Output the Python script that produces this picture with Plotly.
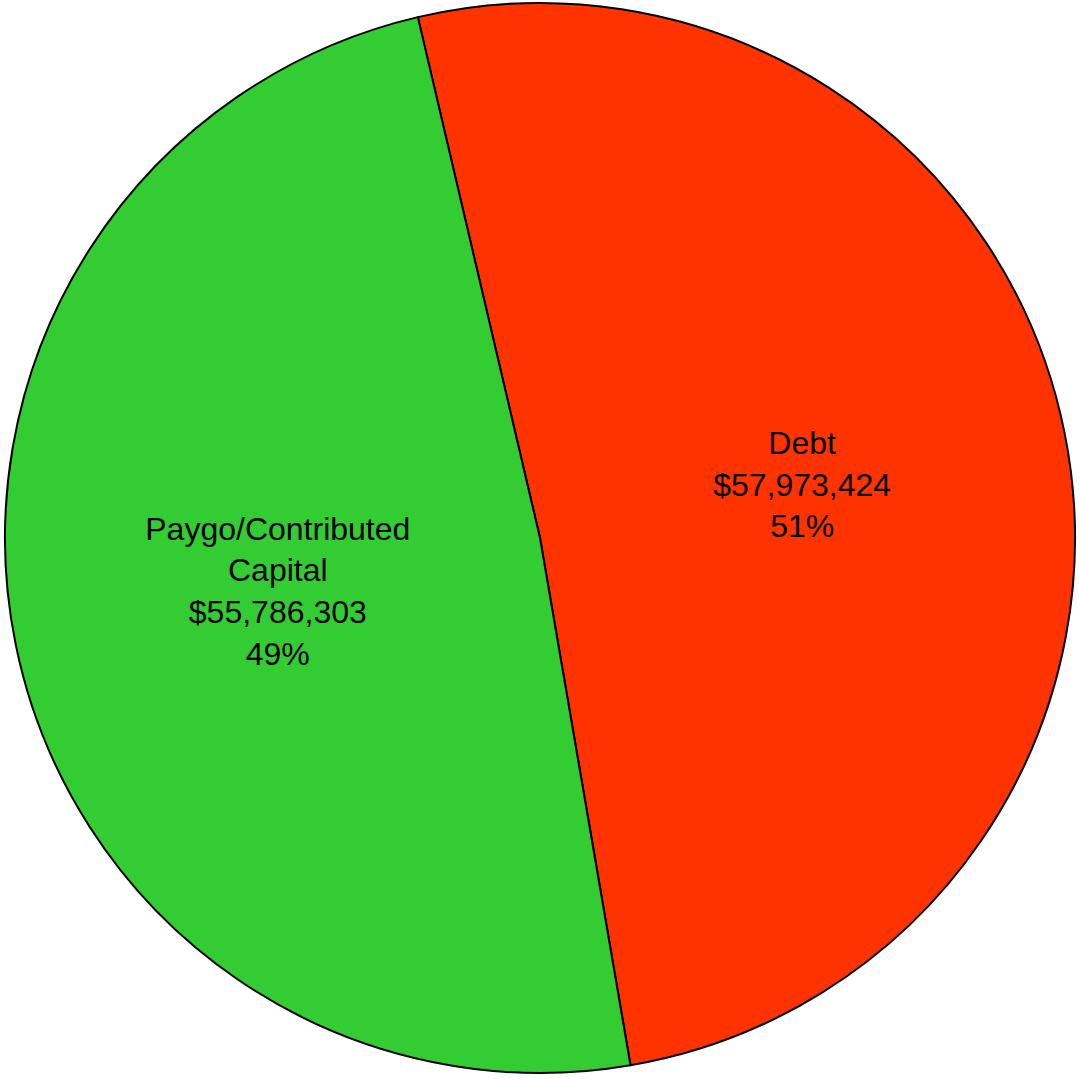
import plotly.graph_objects as go

# Funding sources
labels = ["Debt", "Paygo/Contributed<br>Capital"]
values = [57973424, 55786303]
colors = ["#FF3300", "#33CC33"]

fig = go.Figure(
    go.Pie(
        labels=labels,
        values=values,
        sort=False,
        direction="clockwise",
        rotation=-13.2,
        marker=dict(colors=colors, line=dict(color="black", width=2)),
        texttemplate="%{label}<br>$%{value:,}<br>%{percent:.0%}",
        textposition="inside",
        insidetextorientation="horizontal",
        textfont=dict(family="Liberation Sans, Arial, sans-serif", size=32, color="black"),
        hoverinfo="skip",
        showlegend=False,
    )
)

fig.update_layout(
    width=1079,
    height=1079,
    margin=dict(l=5, r=4, t=3, b=6),
    paper_bgcolor="white",
    plot_bgcolor="white",
)

fig.write_html("out.html")
